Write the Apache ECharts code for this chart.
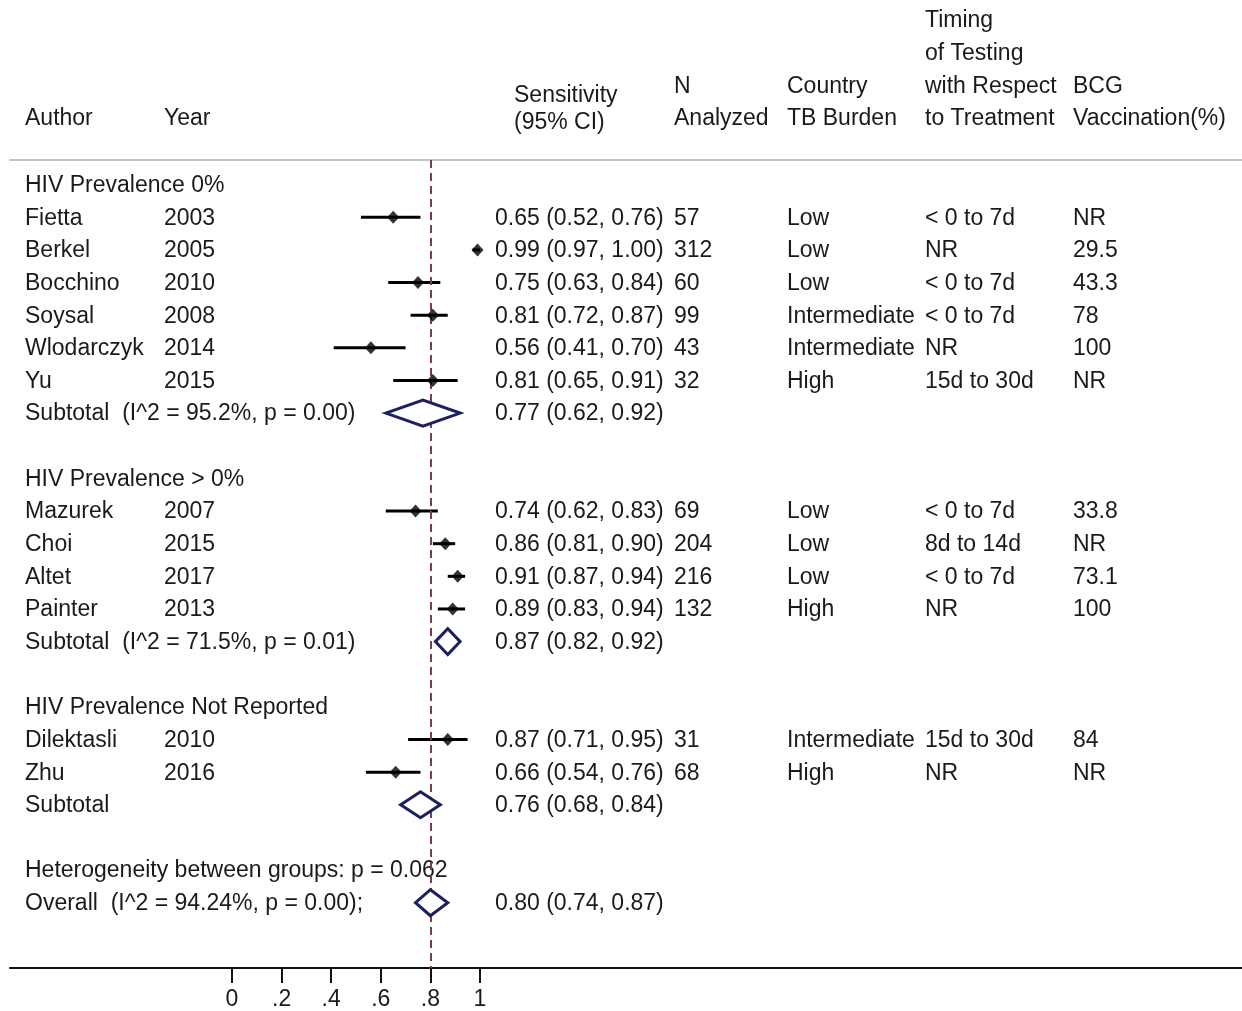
<!DOCTYPE html>
<html>
<head>
<meta charset="utf-8">
<title>Sensitivity forest plot</title>
<script src="https://cdn.jsdelivr.net/npm/echarts@6/dist/echarts.min.js"></script>
<style>
  html, body { margin: 0; padding: 0; background: #ffffff; }
  #chart { width: 1242px; height: 1011px; }
</style>
</head>
<body>
<div id="chart"></div>
<script>
// ---- Study data ----
const authors   = ['Fietta', 'Berkel', 'Bocchino', 'Soysal', 'Wlodarczyk', 'Yu',
                   'Mazurek', 'Choi', 'Altet', 'Painter', 'Dilektasli', 'Zhu'];
const years     = [2003, 2005, 2010, 2008, 2014, 2015, 2007, 2015, 2017, 2013, 2010, 2016];
const sens      = [0.65, 0.99, 0.75, 0.81, 0.56, 0.81, 0.74, 0.86, 0.91, 0.89, 0.87, 0.66];
const ciLow     = [0.52, 0.97, 0.63, 0.72, 0.41, 0.65, 0.62, 0.81, 0.87, 0.83, 0.71, 0.54];
const ciHigh    = [0.76, 1.00, 0.84, 0.87, 0.70, 0.91, 0.83, 0.90, 0.94, 0.94, 0.95, 0.76];
const nAnalyzed = [57, 312, 60, 99, 43, 32, 69, 204, 216, 132, 31, 68];
const tbBurden  = ['Low', 'Low', 'Low', 'Intermediate', 'Intermediate', 'High',
                   'Low', 'Low', 'Low', 'High', 'Intermediate', 'High'];
const timing    = ['< 0 to 7d', 'NR', '< 0 to 7d', '< 0 to 7d', 'NR', '15d to 30d',
                   '< 0 to 7d', '8d to 14d', '< 0 to 7d', 'NR', '15d to 30d', 'NR'];
const bcg       = ['NR', '29.5', '43.3', '78', '100', 'NR', '33.8', 'NR', '73.1', '100', '84', 'NR'];
const groupOf   = [0, 0, 0, 0, 0, 0, 1, 1, 1, 1, 2, 2];

// ---- Group summaries ----
const groupNames     = ['HIV Prevalence 0%', 'HIV Prevalence > 0%', 'HIV Prevalence Not Reported'];
const subtotalLabels = ['Subtotal  (I^2 = 95.2%, p = 0.00)', 'Subtotal  (I^2 = 71.5%, p = 0.01)', 'Subtotal'];
const subEst  = [0.77, 0.87, 0.76];
const subLow  = [0.62, 0.82, 0.68];
const subHigh = [0.92, 0.92, 0.84];

// ---- Overall ----
const heterogeneityText = 'Heterogeneity between groups: p = 0.062';
const overallLabel = 'Overall  (I^2 = 94.24%, p = 0.00);';
const overallEst  = 0.80;
const overallLow  = 0.74;
const overallHigh = 0.87;
const refValue = 0.8;

// ---- Axis ----
const tickValues = [0, 0.2, 0.4, 0.6, 0.8, 1];
const tickLabels = ['0', '.2', '.4', '.6', '.8', '1'];

// ---- Column headers ----
const headers = [
  { col: 'author', lines: ['Author'] },
  { col: 'year',   lines: ['Year'] },
  { col: 'n',      lines: ['N', 'Analyzed'] },
  { col: 'tb',     lines: ['Country', 'TB Burden'] },
  { col: 'timing', lines: ['Timing', 'of Testing', 'with Respect', 'to Treatment'] },
  { col: 'bcg',    lines: ['BCG', 'Vaccination(%)'] }
];
const estHeader = ['Sensitivity', '(95% CI)'];

// ---------------- layout & style ----------------
const W = 1242, H = 1011;
const GRID_LEFT = 10, GRID_RIGHT = 0, GRID_TOP = 160, GRID_BOTTOM = 43;
const PX_ZERO = 232, PX_ONE = 480;            // pixel positions of 0 and 1 on the scale
const COLS = { author: 25, year: 164, est: 495, n: 674, tb: 787, timing: 925, bcg: 1073 };
const FONT_SIZE = 23;
const FONT_FAMILY = '"Liberation Sans", Arial, Helvetica, sans-serif';
const TEXT_COLOR = '#1a1a1a';
const NAVY = '#1c2062';
const REF_COLOR = '#7a3c55';

// value range so that 0 and 1 land on their pixel spots in the full-width grid
const unitPx = PX_ONE - PX_ZERO;
const xMin = -(PX_ZERO - GRID_LEFT) / unitPx;
const xMax = 1 + (W - GRID_RIGHT - PX_ONE) / unitPx;

// ---------------- row structure ----------------
const textRows = [];   // {row, cells:[{col,text}]}
const studyRows = [];  // {i,row}
const diamonds = [];   // [low, high, row, est]
const fmt = v => v.toFixed(2);
const estText = (e, l, h) => `${fmt(e)} (${fmt(l)}, ${fmt(h)})`;

let row = 0;
groupNames.forEach((g, gi) => {
  textRows.push({ row, cells: [{ col: 'author', text: g }] });
  row++;
  authors.forEach((a, i) => {
    if (groupOf[i] !== gi) return;
    textRows.push({ row, cells: [
      { col: 'author', text: a },
      { col: 'year', text: String(years[i]) },
      { col: 'est', text: estText(sens[i], ciLow[i], ciHigh[i]) },
      { col: 'n', text: String(nAnalyzed[i]) },
      { col: 'tb', text: tbBurden[i] },
      { col: 'timing', text: timing[i] },
      { col: 'bcg', text: bcg[i] }
    ]});
    studyRows.push({ i, row });
    row++;
  });
  textRows.push({ row, cells: [
    { col: 'author', text: subtotalLabels[gi] },
    { col: 'est', text: estText(subEst[gi], subLow[gi], subHigh[gi]) }
  ]});
  diamonds.push([subLow[gi], subHigh[gi], row, subEst[gi]]);
  row += 2;
});
textRows.push({ row, cells: [{ col: 'author', text: heterogeneityText }] });
row++;
textRows.push({ row, cells: [
  { col: 'author', text: overallLabel },
  { col: 'est', text: estText(overallEst, overallLow, overallHigh) }
]});
diamonds.push([overallLow, overallHigh, row, overallEst]);
row++;

const ROW_MAX = row + 1;                               // axis sits two rows below the last line
const rowPx = 32.64;
const ROW_MIN = ROW_MAX - (H - GRID_BOTTOM - GRID_TOP) / rowPx;

// ---------------- chart ----------------
const chart = echarts.init(document.getElementById('chart'), null, { renderer: 'canvas' });

const headerGraphics = [];
const lineGap = 32.7, headerBase = 119;
headers.forEach(h => {
  const n = h.lines.length;
  h.lines.forEach((t, k) => {
    headerGraphics.push({
      type: 'text', x: COLS[h.col], y: headerBase - (n - 1 - k) * lineGap,
      style: { text: t, font: `${FONT_SIZE}px ${FONT_FAMILY}`, fill: TEXT_COLOR, verticalAlign: 'middle' }
    });
  });
});
estHeader.forEach((t, k) => {
  headerGraphics.push({
    type: 'text', x: COLS.est + 19, y: 96 + k * 27,
    style: { text: t, font: `${FONT_SIZE}px ${FONT_FAMILY}`, fill: TEXT_COLOR, verticalAlign: 'middle' }
  });
});

const option = {
  backgroundColor: '#ffffff',
  animation: false,
  grid: { left: GRID_LEFT, right: GRID_RIGHT, top: GRID_TOP, bottom: GRID_BOTTOM },
  xAxis: [
    {
      type: 'value', position: 'bottom', min: xMin, max: xMax,
      axisLine: { show: true, onZero: false, lineStyle: { color: '#111', width: 2 } },
      axisTick: { show: true, customValues: tickValues, length: 15, lineStyle: { color: '#111', width: 2 } },
      axisLabel: {
        show: true, customValues: tickValues, margin: 20,
        formatter: v => tickLabels[tickValues.findIndex(t => Math.abs(t - v) < 1e-9)] ?? '',
        fontSize: FONT_SIZE, fontFamily: FONT_FAMILY, color: TEXT_COLOR
      },
      splitLine: { show: false }
    },
    {
      type: 'value', position: 'top', min: xMin, max: xMax,
      axisLine: { show: true, onZero: false, lineStyle: { color: '#c4c4c4', width: 2 } },
      axisTick: { show: false }, axisLabel: { show: false }, splitLine: { show: false }
    }
  ],
  yAxis: {
    type: 'value', inverse: true, min: ROW_MIN, max: ROW_MAX, show: false,
    splitLine: { show: false }
  },
  graphic: headerGraphics,
  series: [
    {
      // reference line at the overall value
      type: 'line', data: [], xAxisIndex: 0,
      markLine: {
        silent: true, symbol: ['none', 'none'], label: { show: false },
        lineStyle: { color: REF_COLOR, type: [8, 5], width: 2 },
        data: [{ xAxis: refValue }]
      }
    },
    {
      // table text, one item per row
      type: 'custom', clip: false, silent: true,
      data: textRows.map(r => [0, r.row]),
      renderItem: (params, api) => {
        const r = textRows[params.dataIndex];
        const y = api.coord([0, api.value(1)])[1];
        return {
          type: 'group',
          children: r.cells.map(c => ({
            type: 'text',
            style: { text: c.text, x: COLS[c.col], y: y + 1, verticalAlign: 'middle',
                     font: `${FONT_SIZE}px ${FONT_FAMILY}`, fill: TEXT_COLOR }
          }))
        };
      },
      z: 3
    },
    {
      // confidence intervals of the studies
      type: 'custom', silent: true,
      data: studyRows.map(s => [ciLow[s.i], ciHigh[s.i], s.row]),
      renderItem: (params, api) => {
        const p0 = api.coord([api.value(0), api.value(2)]);
        const p1 = api.coord([api.value(1), api.value(2)]);
        return { type: 'line', shape: { x1: p0[0], y1: p0[1], x2: p1[0], y2: p1[1] },
                 style: { stroke: '#000', lineWidth: 3 } };
      },
      z: 4
    },
    {
      // point estimates of the studies
      type: 'scatter', silent: true, symbol: 'diamond', symbolSize: [12, 13],
      itemStyle: { color: '#000' },
      data: studyRows.map(s => [sens[s.i], s.row]),
      z: 5
    },
    {
      // pooled estimates
      type: 'custom', silent: true,
      data: diamonds,
      renderItem: (params, api) => {
        const r = api.value(2);
        const l = api.coord([api.value(0), r]);
        const h = api.coord([api.value(1), r]);
        const c = api.coord([api.value(3), r]);
        const half = 13;
        return {
          type: 'polygon',
          shape: { points: [[l[0], l[1]], [c[0], c[1] - half], [h[0], h[1]], [c[0], c[1] + half]] },
          style: { fill: '#ffffff', stroke: NAVY, lineWidth: 3, lineJoin: 'miter' }
        };
      },
      z: 6
    }
  ]
};
chart.setOption(option);
</script>
</body>
</html>
